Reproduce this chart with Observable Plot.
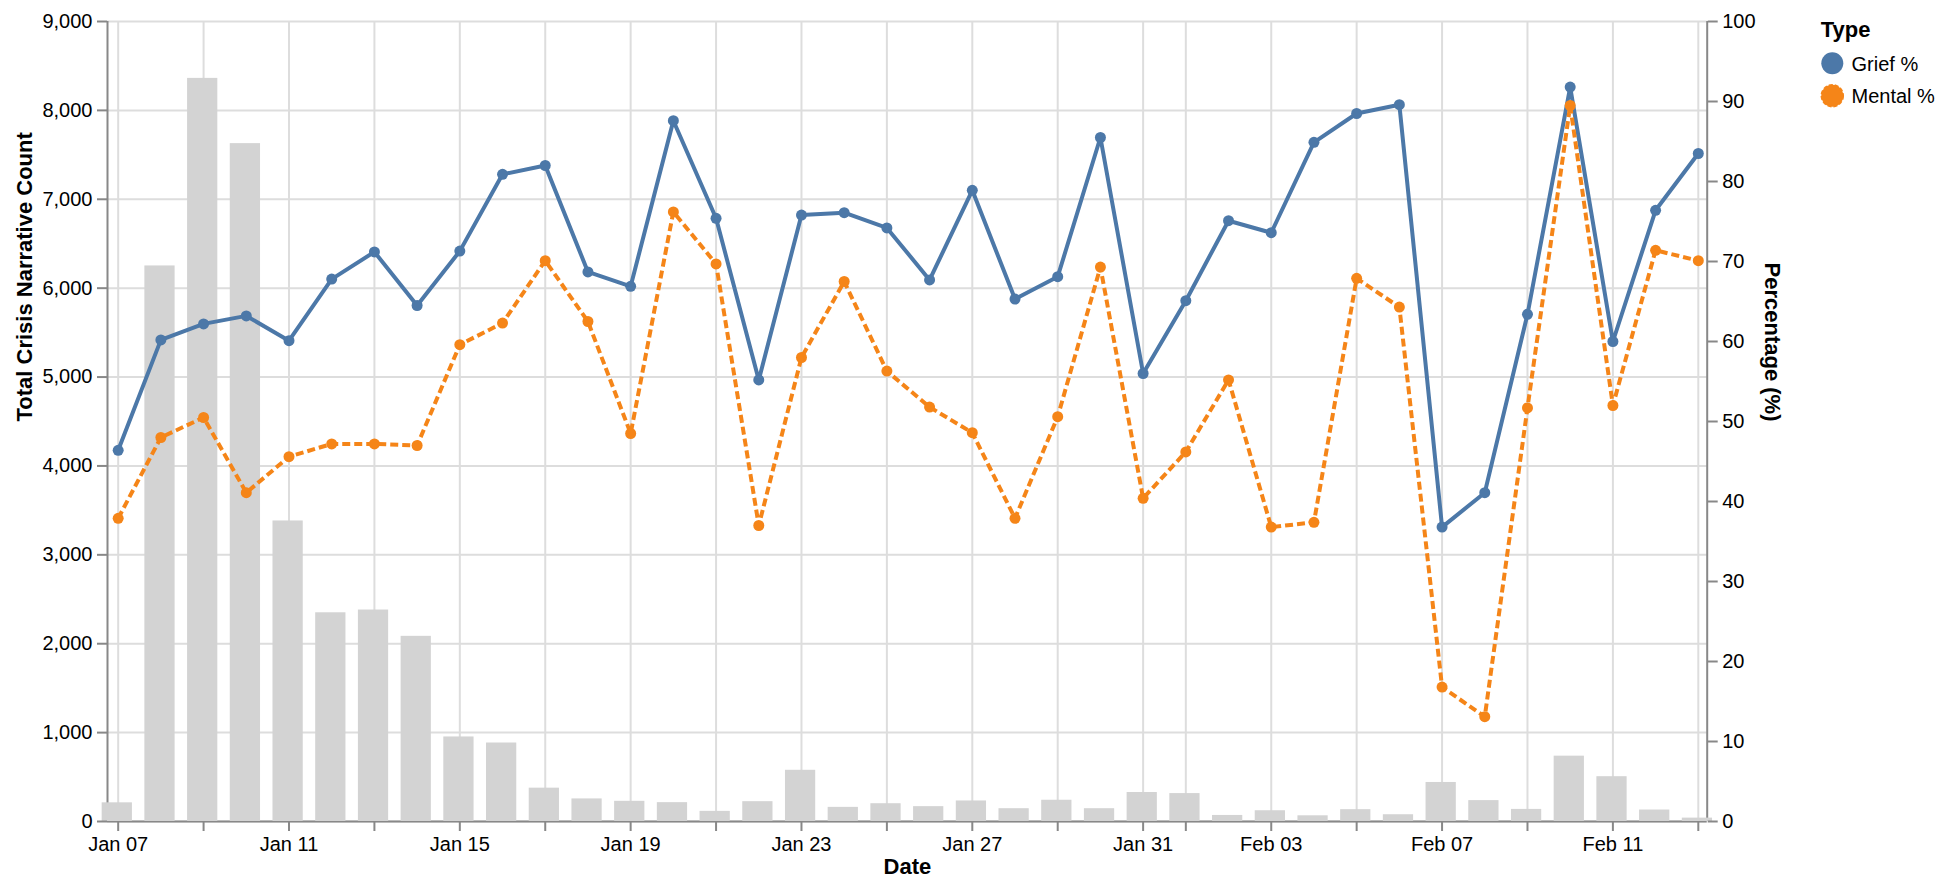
<!DOCTYPE html>
<html>
<head>
<meta charset="utf-8">
<script src="https://cdn.jsdelivr.net/npm/d3@7"></script>
<script src="https://cdn.jsdelivr.net/npm/@observablehq/plot@0.6"></script>
<style>
  html, body { margin: 0; padding: 0; background: white; }
  #wrap { position: relative; width: 1946px; height: 894px; font-family: "Liberation Sans", Arial, Helvetica, sans-serif; }
  #legend { position: absolute; left: 1800px; top: 0px; }
</style>
</head>
<body>
<div id="wrap"></div>
<script>
// ---- data ----
const dates = [
  "2025-01-07","2025-01-08","2025-01-09","2025-01-10","2025-01-11","2025-01-12","2025-01-13",
  "2025-01-14","2025-01-15","2025-01-16","2025-01-17","2025-01-18","2025-01-19","2025-01-20",
  "2025-01-21","2025-01-22","2025-01-23","2025-01-24","2025-01-25","2025-01-26","2025-01-27",
  "2025-01-28","2025-01-29","2025-01-30","2025-01-31","2025-02-01","2025-02-02","2025-02-03",
  "2025-02-04","2025-02-05","2025-02-06","2025-02-07","2025-02-08","2025-02-09","2025-02-10",
  "2025-02-11","2025-02-12","2025-02-13"
];
const totalCounts = [
  210, 6250, 8360, 7626, 3381, 2348, 2379,
  2083, 951, 883, 375, 254, 227, 212,
  114, 223, 576, 159, 200, 167, 231,
  144, 239, 144, 326, 314, 68, 121,
  64, 133, 76, 439, 235, 136, 735,
  504, 129, 38
];
const griefPct = [
  46.4, 60.2, 62.2, 63.2, 60.1, 67.8, 71.2,
  64.5, 71.3, 80.9, 82.0, 68.7, 66.9, 87.6,
  75.4, 55.2, 75.8, 76.1, 74.2, 67.7, 78.9,
  65.3, 68.1, 85.5, 56.0, 65.1, 75.1, 73.6,
  84.9, 88.5, 89.6, 36.8, 41.1, 63.4, 91.8,
  60.0, 76.4, 83.5
];
const mentalPct = [
  37.9, 48.0, 50.5, 41.1, 45.6, 47.2, 47.2,
  47.0, 59.6, 62.3, 70.1, 62.5, 48.5, 76.2,
  69.7, 37.0, 58.0, 67.5, 56.3, 51.8, 48.6,
  37.9, 50.6, 69.3, 40.4, 46.2, 55.2, 36.8,
  37.4, 67.9, 64.3, 16.8, 13.1, 51.7, 89.5,
  52.0, 71.4, 70.1
];
const seriesNames = ["Grief %", "Mental %"];
const seriesColors = ["#4c78a8", "#f58518"];
const seriesDash = [null, "8,4"];
const countTicks = [0, 1000, 2000, 3000, 4000, 5000, 6000, 7000, 8000, 9000];
const pctTicks = [0, 10, 20, 30, 40, 50, 60, 70, 80, 90, 100];
const xTickDates = [
  "2025-01-07","2025-01-09","2025-01-11","2025-01-13","2025-01-15","2025-01-17","2025-01-19",
  "2025-01-21","2025-01-23","2025-01-25","2025-01-27","2025-01-29","2025-01-31","2025-02-01",
  "2025-02-03","2025-02-05","2025-02-07","2025-02-09","2025-02-11","2025-02-13"
];
const xLabelDates = [
  "2025-01-07","2025-01-11","2025-01-15","2025-01-19","2025-01-23","2025-01-27",
  "2025-01-31","2025-02-03","2025-02-07","2025-02-11"
];
const leftTitle = "Total Crisis Narrative Count";
const rightTitle = "Percentage (%)";
const xTitle = "Date";
const legendTitle = "Type";

// ---- build ----
const parse = d3.utcParse("%Y-%m-%d");
const countMax = countTicks[countTicks.length - 1];
const pctMax = pctTicks[pctTicks.length - 1];
const k = countMax / pctMax;

const bars = dates.map((d, i) => ({date: parse(d), count: totalCounts[i]}));
const seriesValues = [griefPct, mentalPct];
const series = seriesNames.map((name, s) => ({
  name, color: seriesColors[s], dash: seriesDash[s],
  rows: dates.map((d, i) => ({date: parse(d), value: seriesValues[s][i]}))
}));

const xMin = d3.utcHour.offset(parse(dates[0]), -5.6);
const xMax = d3.utcHour.offset(parse(dates[dates.length - 1]), 5.6);
const xTicks = xTickDates.map(parse);
const labelSet = new Set(xLabelDates.map(d => +parse(d)));
const fmtDate = d3.utcFormat("%b %d");
const FONT = '"Liberation Sans", Arial, Helvetica, sans-serif';

const chart = Plot.plot({
  width: 1946,
  height: 894,
  marginLeft: 107,
  marginRight: 239.3,
  marginTop: 21,
  marginBottom: 73,
  style: {fontFamily: FONT, fontSize: "20px", background: "white", color: "black"},
  x: {type: "utc", domain: [xMin, xMax]},
  y: {domain: [0, countMax]},
  marks: [
    Plot.gridY({ticks: countTicks, stroke: "#dddddd", strokeOpacity: 1, strokeWidth: 2}),
    Plot.gridX({ticks: xTicks, stroke: "#dddddd", strokeOpacity: 1, strokeWidth: 2}),
    Plot.ruleX([xMin, xMax], {stroke: "#888888", strokeWidth: 2}),
    Plot.ruleY([0], {stroke: "#888888", strokeWidth: 2}),
    Plot.rectY(bars, {
      x1: d => d3.utcHour.offset(d.date, -8.4),
      x2: d => d3.utcHour.offset(d.date, 8.4),
      y1: 0,
      y2: "count",
      fill: "#d3d3d3"
    }),
    ...series.flatMap(s => [
      Plot.line(s.rows, {x: "date", y: d => d.value * k, stroke: s.color, strokeWidth: 4,
        strokeDasharray: s.dash, strokeLinejoin: "round", strokeLinecap: "butt"}),
      Plot.dot(s.rows, {x: "date", y: d => d.value * k, r: 5.5, fill: s.color, stroke: "none"})
    ]),
    Plot.axisY({ticks: countTicks, tickFormat: d3.format(","), tickSize: 10, tickPadding: 5,
      stroke: "#888888", strokeWidth: 2, fill: "black", fontSize: 20, label: null}),
    Plot.axisY({anchor: "right", ticks: pctTicks.map(p => p * k), tickFormat: v => String(Math.round(v / k)),
      tickSize: 10, tickPadding: 5, stroke: "#888888", strokeWidth: 2, fill: "black", fontSize: 20, label: null}),
    Plot.axisX({ticks: xTicks, tickFormat: d => labelSet.has(+d) ? fmtDate(d) : "", tickSize: 10, tickPadding: 5,
      stroke: "#888888", strokeWidth: 2, fill: "black", fontSize: 20, label: null}),
    Plot.text([leftTitle], {text: d => d, frameAnchor: "left", rotate: -90, dx: -83,
      fontWeight: "bold", fontSize: 22, fill: "black"}),
    Plot.text([rightTitle], {text: d => d, frameAnchor: "right", rotate: 90, dx: 65.3,
      fontWeight: "bold", fontSize: 22, fill: "black"}),
    Plot.text([xTitle], {text: d => d, frameAnchor: "bottom", dy: 52.3,
      fontWeight: "bold", fontSize: 22, fill: "black"})
  ]
});

const wrap = document.getElementById("wrap");
wrap.appendChild(chart);

// ---- legend ----
const ns = "http://www.w3.org/2000/svg";
const leg = document.createElementNS(ns, "svg");
leg.setAttribute("id", "legend");
leg.setAttribute("width", "146");
leg.setAttribute("height", "120");
leg.style.fontFamily = FONT;
const t = document.createElementNS(ns, "text");
t.setAttribute("x", "20.7"); t.setAttribute("y", "37.3");
t.setAttribute("font-size", "22"); t.setAttribute("font-weight", "bold");
t.textContent = legendTitle;
leg.appendChild(t);
series.forEach((s, i) => {
  const cy = 63.3 + i * 32.4;
  const c = document.createElementNS(ns, "circle");
  c.setAttribute("cx", "32.3"); c.setAttribute("cy", String(cy)); c.setAttribute("r", "11");
  c.setAttribute("fill", s.color);
  if (s.dash) { c.setAttribute("stroke", s.color); c.setAttribute("stroke-width", "1.5"); c.setAttribute("stroke-dasharray", "4,2"); }
  leg.appendChild(c);
  const lt = document.createElementNS(ns, "text");
  lt.setAttribute("x", "51.5"); lt.setAttribute("y", String(cy + 7.2));
  lt.setAttribute("font-size", "20");
  lt.textContent = s.name;
  leg.appendChild(lt);
});
wrap.appendChild(leg);
</script>
</body>
</html>
